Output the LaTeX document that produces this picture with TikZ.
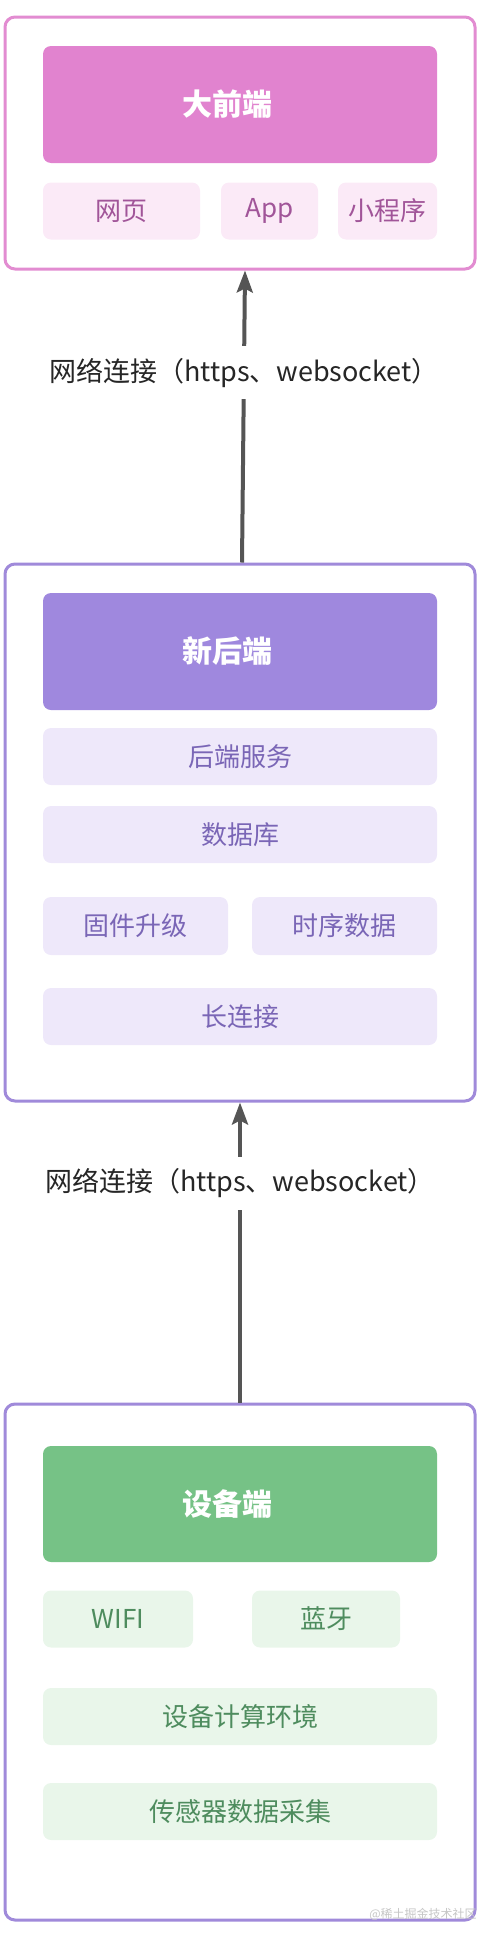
\documentclass[tikz,border=0pt]{standalone}
\usepackage{fontspec}
\setmainfont{Noto Sans CJK SC}
\usetikzlibrary{arrows.meta}
\definecolor{frontpink}{RGB}{225,131,207}
\definecolor{frontline}{RGB}{226,140,209}
\definecolor{frontlight}{RGB}{251,234,247}
\definecolor{fronttext}{RGB}{161,85,153}
\definecolor{backpurple}{RGB}{159,136,222}
\definecolor{backline}{RGB}{160,138,218}
\definecolor{backlight}{RGB}{238,232,250}
\definecolor{backtext}{RGB}{122,102,182}
\definecolor{devgreen}{RGB}{118,194,134}
\definecolor{devlight}{RGB}{233,246,234}
\definecolor{devtext}{RGB}{78,140,94}
\definecolor{linkgray}{RGB}{85,85,85}

\begin{document}
\begin{tikzpicture}[
  x=1pt, y=-1pt,
  framebox/.style={draw=#1, line width=3pt, rounded corners=10pt, minimum width=470pt, inner sep=0pt},
  titlebox/.style={fill=#1, rounded corners=8pt, minimum width=394pt, minimum height=117pt, inner sep=0pt,
    text=white, font=\bfseries\fontsize{30}{36}\selectfont},
  itembox/.style={rounded corners=8pt, minimum height=57pt, inner sep=0pt, font=\fontsize{26}{32}\selectfont},
  frontitem/.style={itembox, fill=frontlight, text=fronttext},
  backitem/.style={itembox, fill=backlight, text=backtext},
  devitem/.style={itembox, fill=devlight, text=devtext},
  link/.style={-{Stealth[length=22pt, width=16pt, inset=4pt]}, line width=4pt, linkgray},
  lbl/.style={fill=white, inner xsep=2pt, inner ysep=12pt, text=black!85, font=\fontsize{27}{32}\selectfont}
]
\useasboundingbox (0,0) rectangle (484,1938);

% front end
\node[framebox=frontline, minimum height=252pt] (front) at (240,143) {};
\node[titlebox=frontpink] (fronttitle) at (240,104.5) {大前端\hspace*{26pt}};
\node[frontitem, minimum width=157pt] (web) at (121.5,211) {网页};
\node[frontitem, minimum width=97pt] (app) at (269.5,211) {App};
\node[frontitem, minimum width=99pt] (mini) at (387.5,211) {小程序};

% back end
\node[framebox=backline, minimum height=537pt] (back) at (240,832.5) {};
\node[titlebox=backpurple] (backtitle) at (240,651.5) {新后端\hspace*{26pt}};
\node[backitem, minimum width=394pt] (service) at (240,756.5) {后端服务};
\node[backitem, minimum width=394pt] (db) at (240,834.5) {数据库};
\node[backitem, minimum width=185pt, minimum height=58pt] (ota) at (135.5,926) {固件升级};
\node[backitem, minimum width=185pt, minimum height=58pt] (tsdb) at (344.5,926) {时序数据};
\node[backitem, minimum width=394pt] (keepalive) at (240,1016.5) {长连接};

% device
\node[framebox=backline, minimum height=516pt] (device) at (240,1662) {};
\node[titlebox=devgreen, minimum height=116pt] (devtitle) at (240,1504) {设备端\hspace*{26pt}};
\node[devitem, minimum width=150pt] (wifi) at (118,1619) {WIFI};
\node[devitem, minimum width=148pt] (bt) at (326,1619) {蓝牙};
\node[devitem, minimum width=394pt] (compute) at (240,1716.5) {设备计算环境};
\node[devitem, minimum width=394pt] (sensor) at (240,1811.5) {传感器数据采集};

% links
\draw[link] ([xshift=2pt]back.north) -- ([xshift=5pt]front.south)
  node[lbl, pos=0.65] (netup) {网络连接（https、websocket）};
\draw[link] (device.north) -- (back.south)
  node[lbl, pos=0.73] (netdown) {网络连接（https、websocket）};

\node[font=\fontsize{12}{14}\selectfont, text=gray!45] (mark) at (423,1914) {@稀土掘金技术社区};
\end{tikzpicture}
\end{document}
